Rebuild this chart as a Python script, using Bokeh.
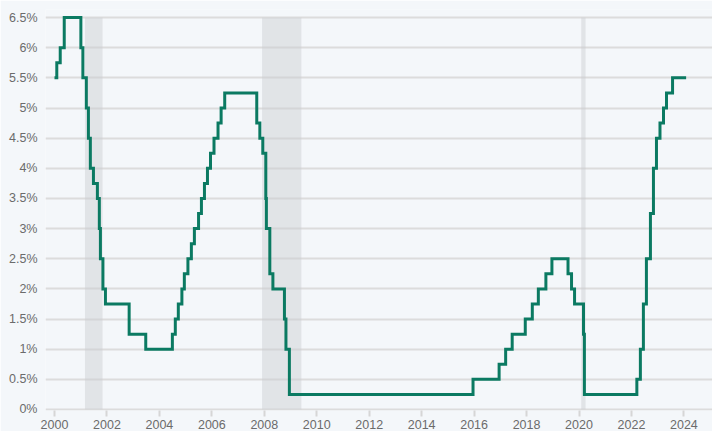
import pandas as pd
from bokeh.plotting import figure
from bokeh.models import Range1d, FixedTicker
from bokeh.embed import file_html
from bokeh.resources import INLINE

# Federal funds target rate (upper bound), change dates and new levels
change_dates = [
    "2000-01-01", "2000-02-02", "2000-03-21", "2000-05-16",
    "2001-01-03", "2001-01-31", "2001-03-20", "2001-04-18", "2001-05-15",
    "2001-06-27", "2001-08-21", "2001-09-17", "2001-10-02", "2001-11-06",
    "2001-12-11", "2002-11-06", "2003-06-25",
    "2004-06-30", "2004-08-10", "2004-09-21", "2004-11-10", "2004-12-14",
    "2005-02-02", "2005-03-22", "2005-05-03", "2005-06-30", "2005-08-09",
    "2005-09-20", "2005-11-01", "2005-12-13",
    "2006-01-31", "2006-03-28", "2006-05-10", "2006-06-29",
    "2007-09-18", "2007-10-31", "2007-12-11",
    "2008-01-22", "2008-01-30", "2008-03-18", "2008-04-30", "2008-10-08",
    "2008-10-29", "2008-12-16",
    "2015-12-17", "2016-12-15",
    "2017-03-16", "2017-06-15", "2017-12-14",
    "2018-03-22", "2018-06-14", "2018-09-27", "2018-12-20",
    "2019-08-01", "2019-09-19", "2019-10-31",
    "2020-03-04", "2020-03-16",
    "2022-03-17", "2022-05-05", "2022-06-16", "2022-07-28", "2022-09-22",
    "2022-11-03", "2022-12-15",
    "2023-02-02", "2023-03-23", "2023-05-04", "2023-07-27",
    "2024-02-01",
]
rate_levels = [
    5.5, 5.75, 6.0, 6.5,
    6.0, 5.5, 5.0, 4.5, 4.0,
    3.75, 3.5, 3.0, 2.5, 2.0,
    1.75, 1.25, 1.0,
    1.25, 1.5, 1.75, 2.0, 2.25,
    2.5, 2.75, 3.0, 3.25, 3.5,
    3.75, 4.0, 4.25,
    4.5, 4.75, 5.0, 5.25,
    4.75, 4.5, 4.25,
    3.5, 3.0, 2.25, 2.0, 1.5,
    1.0, 0.25,
    0.5, 0.75,
    1.0, 1.25, 1.5,
    1.75, 2.0, 2.25, 2.5,
    2.25, 2.0, 1.75,
    1.25, 0.25,
    0.5, 1.0, 1.75, 2.5, 3.25,
    4.0, 4.5,
    4.75, 5.0, 5.25, 5.5,
    5.5,
]

recession_starts = ["2001-03-01", "2007-12-01", "2020-02-01"]
recession_ends = ["2001-11-01", "2009-06-01", "2020-04-01"]

x_ticks = list(range(2000, 2025, 2))
x_tick_labels = [str(t) for t in x_ticks]
y_ticks = [0, 0.5, 1, 1.5, 2, 2.5, 3, 3.5, 4, 4.5, 5, 5.5, 6, 6.5]
y_tick_labels = ["0%", "0.5%", "1%", "1.5%", "2%", "2.5%", "3%", "3.5%",
                 "4%", "4.5%", "5%", "5.5%", "6%", "6.5%"]


def to_year(s):
    d = pd.Timestamp(s)
    start = pd.Timestamp(year=d.year, month=1, day=1)
    end = pd.Timestamp(year=d.year + 1, month=1, day=1)
    return d.year + (d - start) / (end - start)


xs = [to_year(d) for d in change_dates]
rs = [to_year(d) for d in recession_starts]
re_ = [to_year(d) for d in recession_ends]

BG = "#f4f7fa"
p = figure(width=712, height=431, output_backend="svg", toolbar_location=None,
           x_range=Range1d(1999.657, 2025.09), y_range=Range1d(-0.0167, 6.634),
           background_fill_color=BG, border_fill_color=BG,
           min_border_left=45, min_border_right=0, min_border_top=9,
           min_border_bottom=0)
p.outline_line_color = None

p.quad(left=rs, right=re_, bottom=[0] * len(rs), top=[6.5] * len(rs),
       fill_color="#c9ccd0", fill_alpha=0.45, line_color=None)

p.step(xs, rate_levels, mode="after", line_color="#0b7a62", line_width=3,
       line_join="miter")

p.xgrid.grid_line_color = None
p.ygrid.grid_line_color = "#dcdcdc"
p.ygrid.grid_line_width = 2
p.ygrid.ticker = FixedTicker(ticks=y_ticks)

p.xaxis.ticker = FixedTicker(ticks=x_ticks)
p.xaxis.major_label_overrides = dict(zip(x_ticks, x_tick_labels))
p.xaxis.axis_line_color = None
p.xaxis.major_tick_line_color = "#d6d6d6"
p.xaxis.major_tick_line_width = 2
p.xaxis.major_tick_out = 6
p.xaxis.major_tick_in = 0
p.xaxis.minor_tick_line_color = None
p.xaxis.major_label_standoff = 3

p.yaxis.ticker = FixedTicker(ticks=y_ticks)
p.yaxis.major_label_overrides = dict(zip(y_ticks, y_tick_labels))
p.yaxis.axis_line_color = None
p.yaxis.major_tick_line_color = None
p.yaxis.minor_tick_line_color = None
p.yaxis.major_label_standoff = 2

for ax in (p.xaxis, p.yaxis):
    ax.major_label_text_font = "Liberation Sans"
    ax.major_label_text_font_size = "12.5px"
    ax.major_label_text_color = "#6b6b6b"

open("out.html", "w").write(file_html(p, INLINE))
